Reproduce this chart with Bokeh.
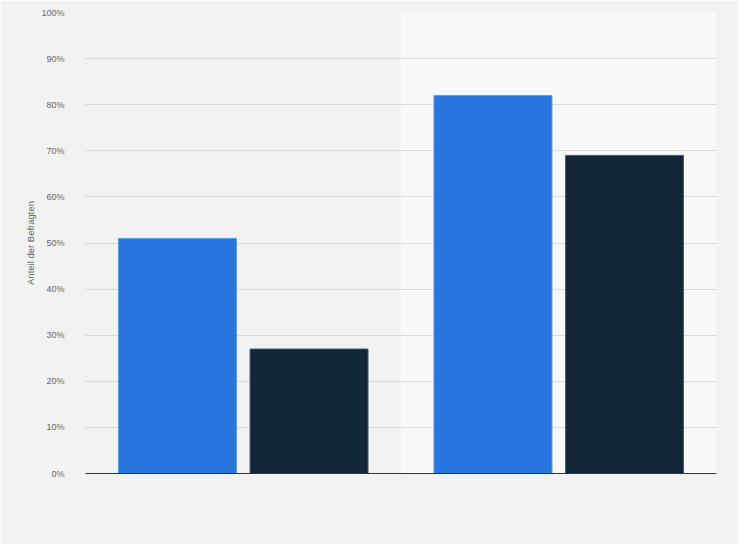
from bokeh.plotting import figure
from bokeh.models import ColumnDataSource, FixedTicker, BoxAnnotation, Range1d
from bokeh.transform import dodge
from bokeh.embed import file_html
from bokeh.resources import INLINE

# Data
groups = ["Gruppe 1", "Gruppe 2"]
series_blue = [51, 82]
series_dark = [27, 69]
y_ticks = [0, 10, 20, 30, 40, 50, 60, 70, 80, 90, 100]
y_tick_labels = {t: f"{t}%" for t in y_ticks}

BG = "#f2f2f2"
FONT = "Liberation Sans"

src = ColumnDataSource(dict(
    x=[i + 0.5 for i in range(len(groups))],
    group=groups,
    blue=series_blue,
    dark=series_dark,
))

p = figure(width=738, height=544, output_backend="svg", toolbar_location=None,
           x_range=Range1d(0, len(groups)), y_range=Range1d(0, 100),
           min_border_left=85, min_border_right=22, min_border_top=12,
           min_border_bottom=71)
p.background_fill_color = BG
p.border_fill_color = BG
p.outline_line_color = None

band = BoxAnnotation(left=1, right=2, bottom=0, top=100, fill_color="#f8f8f8",
                     fill_alpha=1, line_color=None, level="underlay")
p.add_layout(band)
p.center = [band] + [r for r in p.center if r is not band]

w = 0.374
p.vbar(x=dodge("x", -0.2085, range=p.x_range), top="blue", width=w, bottom=0,
       source=src, fill_color="#2876dd", line_color="#5d9ae6", line_width=1)
p.vbar(x=dodge("x", 0.2085, range=p.x_range), top="dark", width=w, bottom=0,
       source=src, fill_color="#12263a", line_color="#4b5b6c", line_width=1)

p.xgrid.visible = False
p.ygrid.grid_line_color = "#bdbdbd"
p.ygrid.grid_line_dash = "1 1"
p.ygrid.grid_line_width = 1
p.yaxis.ticker = FixedTicker(ticks=y_ticks)
p.yaxis.major_label_overrides = y_tick_labels
p.yaxis.axis_line_color = None
p.yaxis.major_tick_line_color = None
p.yaxis.minor_tick_line_color = None
p.yaxis.major_label_standoff = 15
p.yaxis.major_label_text_font = FONT
p.yaxis.major_label_text_font_size = "9px"
p.yaxis.major_label_text_color = "#666666"
p.yaxis.axis_label = "Anteil der Befragten"
p.yaxis.axis_label_text_font = FONT
p.yaxis.axis_label_text_font_size = "9.5px"
p.yaxis.axis_label_text_font_style = "normal"
p.yaxis.axis_label_text_color = "#666666"
p.yaxis.axis_label_standoff = 2

p.xaxis.ticker = FixedTicker(ticks=[])
p.xaxis.axis_line_color = "#333333"
p.xaxis.axis_line_width = 1
p.xaxis.major_tick_line_color = None
p.xaxis.minor_tick_line_color = None

open("out.html", "w").write(file_html(p, INLINE))
